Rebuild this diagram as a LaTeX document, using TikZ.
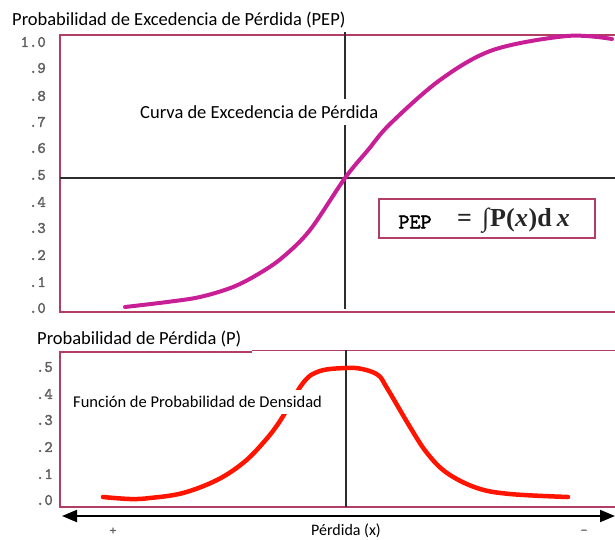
\documentclass[tikz,border=0pt]{standalone}
\usepackage{fontspec}
\setmainfont{Carlito}
\newfontfamily\formfont{Liberation Serif}
\newfontfamily\tickfont{lmmono10-regular.otf}[FakeBold=2]
\usetikzlibrary{arrows.meta}
\definecolor{framecol}{RGB}{178,62,100}
\definecolor{pepcol}{RGB}{200,30,150}
\definecolor{pcol}{RGB}{255,20,0}
\definecolor{gridcol}{RGB}{45,45,45}
\definecolor{tickcol}{RGB}{95,95,95}
\tikzset{
  frame/.style={draw=framecol, line width=1.6pt},
  gridln/.style={draw=gridcol, line width=1.5pt},
  ticklbl/.style={anchor=east, inner sep=0pt, font=\tickfont\fontsize{16}{16}\selectfont, text=tickcol},
  titlelbl/.style={anchor=west, inner sep=0pt, font=\fontsize{18.5}{18.5}\selectfont},
  curvelbl/.style={anchor=west, fill=white, inner xsep=2pt, inner ysep=7pt, font=\fontsize{18.5}{18.5}\selectfont},
  pepcurve/.style={draw=pepcol, line width=4pt, line cap=round},
  pcurve/.style={draw=pcol, line width=4.5pt, line cap=round},
  axisarrow/.style={line width=2pt, {Triangle[length=15pt,width=12pt]}-{Triangle[length=15pt,width=12pt]}}
}
\begin{document}
\begin{tikzpicture}[x=1pt,y=-1pt]
\useasboundingbox (0,0) rectangle (615,539);
% ---------- top chart ----------
\node[titlelbl] (t1) at (12,20) {Probabilidad de Excedencia de Pérdida (PEP)};
\draw[frame] (615,35) -- (60,35) -- (60,312) -- (615,312);
\coordinate (h1a) at (60,178); \coordinate (h1b) at (615,178);
\coordinate (v1a) at (345,32); \coordinate (v1b) at (345,309);
\draw[gridln] (h1a) -- (h1b);
\draw[gridln] (v1a) -- (v1b);
\foreach \v/\yy in {1.0/42,.9/68,.8/96,.7/122,.6/148,.5/175,.4/202,.3/228,.2/255,.1/282,.0/308}
  \node[ticklbl] at (46,\yy) {\v};
\draw[pepcurve] plot[smooth, tension=0.55] coordinates {
  (125,307) (167,302) (200,297) (233,287) (260,273) (283,257) (310,230) (345,178)
  (368,150) (390,124) (440,80) (493,50) (567,36) (612,39)};
\node[curvelbl] (c1) at (138,112) {Curva de Excedencia de Pérdida};
\node[draw=framecol, line width=1.6pt, minimum width=216pt, minimum height=39pt, inner sep=0pt] (f1) at (487,218.5) {};
\node[anchor=center, inner sep=0pt, font=\tickfont\fontsize{21}{21}\selectfont, text=black] (f1a) at (415,222) {PEP};
\node[anchor=west, inner sep=0pt, font=\formfont\bfseries\fontsize{26}{26}\selectfont, text=black!85] (f1b) at (457,221) {=\hspace{10pt}∫\hspace{1pt}P(\hspace{0.5pt}\textit{x}\hspace{0.5pt})d\hspace{5pt}\textit{x}};
% ---------- bottom chart ----------
\node[titlelbl] (t2) at (37,339) {Probabilidad de Pérdida (P)};
\draw[frame] (252,352) -- (60,352) -- (60,507) -- (615,507);
\draw[frame] (252,350.5) -- (615,350.5);
\coordinate (v2a) at (346,350); \coordinate (v2b) at (346,507);
\draw[gridln] (v2a) -- (v2b);
\foreach \v/\yy in {.5/367,.4/394,.3/420,.2/447,.1/474,.0/500}
  \node[ticklbl] at (53,\yy) {\v};
\draw[pcurve] plot[smooth, tension=0.6] coordinates {
  (103,497) (130,499) (150,498) (183,493) (217,480) (243,463) (263,443) (280,421)
  (303,383) (320,371) (346,368) (362,369) (378,375) (387,388) (410,427)
  (427,453) (447,473) (477,488) (510,494) (568,497)};
\node[curvelbl, font=\fontsize{16.5}{16.5}\selectfont, inner ysep=6pt] (c2) at (71,402) {Función de Probabilidad de Densidad};
% ---------- axis ----------
\coordinate (aL) at (62,516); \coordinate (aR) at (615,516);
\draw[axisarrow] (aL) -- (aR);
\node[inner sep=0pt, font=\tickfont\fontsize{13}{13}\selectfont, text=tickcol] (plus) at (113,531) {+};
\node[inner sep=0pt, font=\tickfont\fontsize{13}{13}\selectfont, text=tickcol] (minus) at (584,532) {-};
\node[inner sep=0pt, font=\fontsize{16}{16}\selectfont] (xl) at (346,531) {Pérdida (x)};
\end{tikzpicture}
\end{document}
